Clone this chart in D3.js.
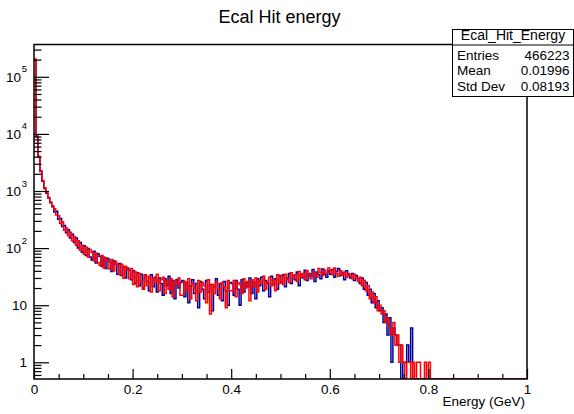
<!DOCTYPE html>
<html>
<head>
<meta charset="utf-8">
<script src="https://cdn.jsdelivr.net/npm/d3@7"></script>
<style>
  body { margin: 0; background: #fff; }
  svg { display: block; }
  text { font-family: "Liberation Sans", Arial, Helvetica, sans-serif; fill: #000; }
</style>
</head>
<body>
<svg id="chart" width="574" height="414"></svg>
<script>
// histogram binning: 250 bins from 0 to 1 GeV
const binWidth = 0.004

// bin contents (blue histogram)
const blueCounts = [
  198000, 9200, 3950, 2230, 1480, 1130, 915, 770, 620, 545, 430, 440, 320, 330, 240, 250, 185, 210, 150, 175, 125, 150, 100, 125, 85,
  110, 74, 98, 70, 62, 88, 55, 80, 71, 48, 69, 44, 66, 58, 39, 60, 52, 35, 54, 33, 47, 30, 45, 41, 28,
  40, 24, 37, 22, 35, 20, 33, 26, 18, 34, 21, 31, 17, 30, 24, 15, 29, 22, 32, 16, 27, 13, 28, 20, 25,
  27, 14, 25, 11, 22, 28, 16, 24, 9, 26, 19, 13, 27, 17, 23, 8, 21, 29, 15, 24, 12, 26, 18, 10, 25,
  24, 15, 27, 19, 10, 28, 17, 25, 21, 30, 16, 26, 13, 29, 22, 31, 18, 27, 24, 14, 32, 23, 29, 19, 33,
  25, 34, 21, 30, 36, 24, 33, 28, 38, 22, 35, 30, 41, 27, 36, 32, 42, 26, 38, 34, 29, 43, 35, 31, 40,
  35, 42, 31, 39, 44, 33, 37, 28, 40, 34, 30, 36, 27, 33, 29, 24, 30, 19, 25, 15, 19, 11, 16, 9, 12,
  8, 9, 5, 7, 3, 6, 1, 4, 3, 2, 2, 0, 1, 1, 2, 1, 4, 0, 0, 0, 0, 0, 0, 0, 0,
  0, 0, 0, 0, 0, 0, 0, 0, 0, 0, 0, 0, 0, 0, 0, 0, 0, 0, 0, 0, 0, 0, 0, 0, 0,
  0, 0, 0, 0, 0, 0, 0, 0, 0, 0, 0, 0, 0, 0, 0, 0, 0, 0, 0, 0, 0, 0, 0, 0, 0
]

// bin contents (red histogram, drawn on top)
const redCounts = [
  205000, 8900, 4050, 2170, 1520, 1100, 940, 750, 640, 525, 490, 380, 370, 270, 290, 205, 225, 165, 190, 135, 160, 112, 135, 92, 112,
  78, 104, 70, 95, 84, 60, 82, 56, 50, 74, 45, 68, 60, 43, 63, 40, 58, 50, 34, 52, 30, 48, 42, 29, 44,
  23, 38, 21, 36, 26, 19, 34, 22, 32, 17, 30, 25, 35, 18, 28, 31, 16, 27, 19, 29, 14, 26, 23, 30, 15,
  15, 26, 18, 29, 13, 24, 20, 12, 27, 17, 25, 22, 11, 28, 7, 23, 16, 26, 19, 13, 25, 21, 9, 27, 18,
  18, 27, 14, 25, 23, 16, 29, 20, 26, 12, 28, 21, 30, 17, 27, 24, 32, 19, 25, 31, 22, 28, 18, 34, 24,
  32, 23, 35, 28, 25, 37, 30, 34, 26, 39, 31, 36, 28, 40, 33, 29, 38, 35, 31, 44, 37, 33, 41, 36, 45,
  41, 34, 45, 36, 32, 40, 34, 38, 31, 36, 33, 29, 35, 30, 26, 31, 22, 27, 18, 22, 13, 17, 11, 14, 8,
  10, 7, 8, 5, 6, 4, 3, 5, 2, 3, 1, 2, 1, 0, 1, 1, 0, 1, 0, 1, 1, 0, 0, 1, 0,
  1, 0, 0, 0, 0, 0, 0, 0, 0, 0, 0, 0, 0, 0, 0, 0, 0, 0, 0, 0, 0, 0, 0, 0, 0,
  0, 0, 0, 0, 0, 0, 0, 0, 0, 0, 0, 0, 0, 0, 0, 0, 0, 0, 0, 0, 0, 0, 0, 0, 0
]

// axis ticks and labels
const xMajor = [0, 0.2, 0.4, 0.6, 0.8, 1]
const xLabels = ['0', '0.2', '0.4', '0.6', '0.8', '1']
const xMinor = [0.05, 0.1, 0.15, 0.25, 0.3, 0.35, 0.45, 0.5, 0.55, 0.65, 0.7, 0.75, 0.85, 0.9, 0.95]
const yMajor = [1, 10, 100, 1000, 10000, 100000]
const yBase = ['1', '10', '10', '10', '10', '10']
const yExp = ['', '', '2', '3', '4', '5']

// stats box
const statsTitle = 'Ecal_Hit_Energy'
const statsNames = ['Entries', 'Mean', 'Std Dev']
const statsValues = ['466223', '0.01996', '0.08193']

const svg = d3.select('#chart')
const frame = { left: 34, right: 527, top: 44.5, bottom: 379 }
const yDomain = [0.51, 3.68e5]

var x = d3.scaleLinear().domain([0, 1]).range([frame.left, frame.right])
var y = d3.scaleLog().domain(yDomain).range([frame.bottom, frame.top])

// title
svg.append('text')
  .attr('x', 279.5).attr('y', 22.7)
  .attr('text-anchor', 'middle')
  .style('font-size', '18px')
  .text('Ecal Hit energy')

// clip the histograms to the frame
svg.append('clipPath').attr('id', 'frameClip')
  .append('rect')
  .attr('x', frame.left).attr('y', frame.top)
  .attr('width', frame.right - frame.left).attr('height', frame.bottom - frame.top)

// step line for a histogram, empty bins sit on the frame bottom
function histPoints(counts) {
  let pts = counts.map((c, i) => [i * binWidth, c])
  pts.push([counts.length * binWidth, counts[counts.length - 1]])
  return pts
}
var stepLine = d3.line()
  .x(d => x(d[0]))
  .y(d => y(Math.max(d[1], yDomain[0])))
  .curve(d3.curveStepAfter)

var histGroup = svg.append('g').attr('clip-path', 'url(#frameClip)')
histGroup.append('path')
  .attr('d', stepLine(histPoints(blueCounts)))
  .attr('fill', 'none')
  .attr('stroke', '#000099')
  .attr('stroke-width', 1.5)
histGroup.append('path')
  .attr('d', stepLine(histPoints(redCounts)))
  .attr('fill', 'none')
  .attr('stroke', '#ff0000')
  .attr('stroke-width', 1.5)

// frame
svg.append('rect')
  .attr('x', frame.left).attr('y', frame.top)
  .attr('width', frame.right - frame.left).attr('height', frame.bottom - frame.top)
  .attr('fill', 'none')
  .attr('stroke', '#000')
  .attr('stroke-width', 1.5)

// x axis: ticks point inward
var xAxisMajor = d3.axisBottom(x).tickValues(xMajor).tickSizeInner(-10).tickSizeOuter(0).tickPadding(5)
  .tickFormat((d, i) => xLabels[i])
var xAxisMinor = d3.axisBottom(x).tickValues(xMinor).tickSizeInner(-5).tickSizeOuter(0).tickFormat('')
var gx = svg.append('g').attr('transform', `translate(0,${frame.bottom})`).call(xAxisMajor)
svg.append('g').attr('transform', `translate(0,${frame.bottom})`).call(xAxisMinor)
  .select('.domain').remove()
gx.select('.domain').remove()
gx.selectAll('.tick text').style('font-size', '13.5px').attr('fill', '#000')

// y axis: major ticks with powers of ten, minor ticks from the log scale
var yMinor = y.ticks().filter(t => yMajor.indexOf(t) === -1)
var yAxisMajor = d3.axisLeft(y).tickValues(yMajor).tickSizeInner(-15).tickSizeOuter(0).tickPadding(7)
  .tickFormat((d, i) => yBase[i])
var yAxisMinor = d3.axisLeft(y).tickValues(yMinor).tickSizeInner(-7.5).tickSizeOuter(0).tickFormat('')
var gy = svg.append('g').attr('transform', `translate(${frame.left},0)`).call(yAxisMajor)
var gyMinor = svg.append('g').attr('transform', `translate(${frame.left},0)`).call(yAxisMinor)
gy.select('.domain').remove()
gyMinor.select('.domain').remove()
svg.selectAll('.tick line').attr('stroke', '#000').attr('stroke-width', 1.2)
gy.selectAll('.tick text')
  .style('font-size', '13.5px')
  .attr('fill', '#000')
  .each(function (d, i) {
    if (yExp[i]) {
      d3.select(this).attr('x', -13)
      d3.select(this.parentNode).append('text')
        .attr('x', -7).attr('y', -5)
        .attr('text-anchor', 'end')
        .style('font-size', '9.5px')
        .text(yExp[i])
    }
  })

// x axis title
svg.append('text')
  .attr('x', 525).attr('y', 406)
  .attr('text-anchor', 'end')
  .style('font-size', '13.5px')
  .text('Energy (GeV)')

// stats box
var box = { x: 452.5, y: 29.5, w: 121, h: 67 }
var statsGroup = svg.append('g')
statsGroup.append('rect')
  .attr('x', box.x).attr('y', box.y).attr('width', box.w).attr('height', box.h)
  .attr('fill', '#fff').attr('stroke', '#000').attr('stroke-width', 1)
statsGroup.append('line')
  .attr('x1', box.x).attr('x2', box.x + box.w)
  .attr('y1', 45).attr('y2', 45)
  .attr('stroke', '#000')
statsGroup.append('text')
  .attr('x', box.x + box.w / 2).attr('y', 40)
  .attr('text-anchor', 'middle')
  .style('font-size', '14px')
  .text(statsTitle)
statsNames.forEach((name, i) => {
  statsGroup.append('text')
    .attr('x', 457).attr('y', 59.5 + i * 15.5)
    .style('font-size', '13.5px')
    .text(name)
  statsGroup.append('text')
    .attr('x', 569.5).attr('y', 59.5 + i * 15.5)
    .attr('text-anchor', 'end')
    .style('font-size', '13.5px')
    .text(statsValues[i])
})
</script>
</body>
</html>
